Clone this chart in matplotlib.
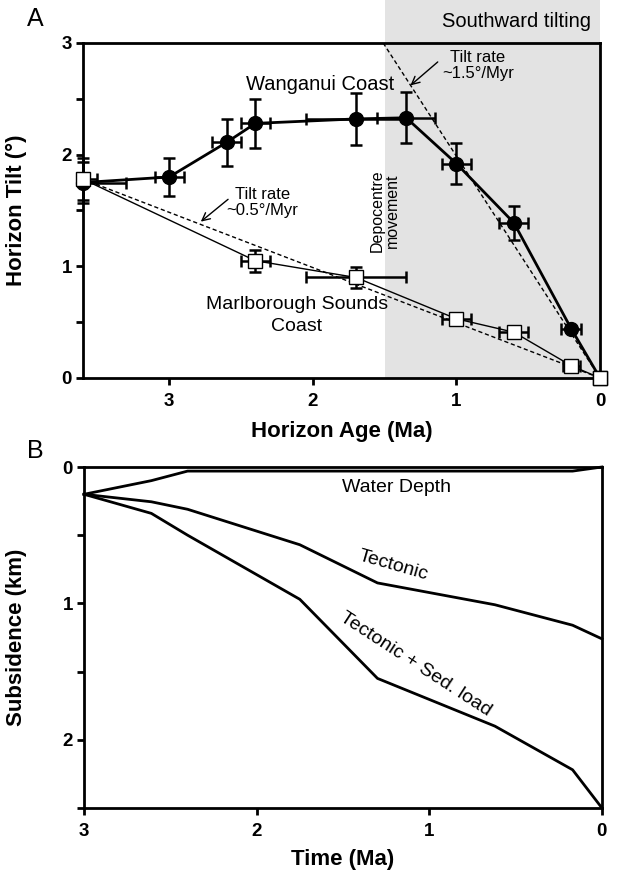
import matplotlib

matplotlib.use("Agg")
import matplotlib.pyplot as plt
from matplotlib.patches import Rectangle
from matplotlib.ticker import MultipleLocator

plt.rcParams["font.family"] = ["Liberation Sans", "DejaVu Sans"]

# Panel A: horizon tilt vs age
wang_age = [3.6, 3.0, 2.6, 2.4, 1.7, 1.35, 1.0, 0.6, 0.2, 0.0]
wang_tilt = [1.75, 1.80, 2.11, 2.28, 2.32, 2.33, 1.92, 1.39, 0.44, 0.0]
wang_xerr_young = [0.3, 0.1, 0.1, 0.1, 0.35, 0.2, 0.1, 0.1, 0.07, 0.0]
wang_xerr_old = [0.0, 0.1, 0.1, 0.1, 0.35, 0.2, 0.1, 0.1, 0.07, 0.0]
wang_yerr = [0.18, 0.17, 0.21, 0.22, 0.23, 0.23, 0.18, 0.15, 0.0, 0.0]

marl_age = [3.6, 2.4, 1.7, 1.0, 0.6, 0.2, 0.0]
marl_tilt = [1.78, 1.05, 0.90, 0.53, 0.41, 0.11, 0.0]
marl_xerr_young = [0.1, 0.1, 0.35, 0.1, 0.1, 0.06, 0.0]
marl_xerr_old = [0.0, 0.1, 0.35, 0.1, 0.1, 0.06, 0.0]
marl_yerr = [0.19, 0.10, 0.09, 0.04, 0.0, 0.0, 0.0]

fit_slow_age = [3.6, 0.0]
fit_slow_tilt = [1.78, 0.0]
fit_fast_age = [1.51, 0.0]
fit_fast_tilt = [3.0, 0.0]
depocentre_age = 1.5

# Panel B: subsidence history
sub_time = [3.0, 2.61, 2.4, 1.75, 1.30, 0.62, 0.17, 0.0]
water_depth = [0.2, 0.10, 0.03, 0.03, 0.03, 0.03, 0.03, 0.0]
tectonic = [0.2, 0.255, 0.31, 0.57, 0.85, 1.01, 1.16, 1.26]
tect_sed = [0.2, 0.34, 0.50, 0.97, 1.55, 1.90, 2.22, 2.5]


def style_axes(ax):
    for sp in ax.spines.values():
        sp.set_linewidth(2)
    ax.tick_params(which="both", direction="out", length=5, width=2, labelsize=13.5, pad=3)
    ax.tick_params(axis="x", pad=6)
    for lab in ax.get_xticklabels() + ax.get_yticklabels():
        lab.set_fontweight("bold")


fig = plt.figure(figsize=(6.21, 8.77), dpi=100)
ax1 = fig.add_axes([0.1337, 0.569, 0.8325, 0.382])
ax2 = fig.add_axes([0.1353, 0.0787, 0.834, 0.3888])

# ---- A ----
ax1.set_xlim(3.6, 0)
ax1.set_ylim(0, 3)
ax1.set_xticks([3, 2, 1, 0])
ax1.set_yticks([0, 1, 2, 3])
ax1.yaxis.set_minor_locator(MultipleLocator(0.5))

grey = Rectangle((depocentre_age, 0), -depocentre_age, 1.13, transform=ax1.get_xaxis_transform(),
                 facecolor="#e3e3e3", edgecolor="none", clip_on=False, zorder=0)
ax1.add_patch(grey)

ax1.plot(fit_slow_age, fit_slow_tilt, color="black", lw=1, ls=(0, (3, 2)), zorder=2)
ax1.plot(fit_fast_age, fit_fast_tilt, color="black", lw=1, ls=(0, (3, 2)), zorder=2)

# x axis is reversed: first row of xerr is toward younger ages (right), second toward older
ax1.errorbar(marl_age, marl_tilt, xerr=[marl_xerr_young, marl_xerr_old], yerr=marl_yerr, fmt="none",
             ecolor="black", elinewidth=1.8, capsize=4, capthick=1.8, clip_on=False, zorder=3)
ax1.plot(marl_age, marl_tilt, color="black", lw=1, marker="s", ms=10, mfc="white", mec="black",
         mew=1, clip_on=False, zorder=5)
ax1.errorbar(wang_age[:-1], wang_tilt[:-1], xerr=[wang_xerr_young[:-1], wang_xerr_old[:-1]],
             yerr=wang_yerr[:-1], fmt="none", ecolor="black", elinewidth=1.8, capsize=4,
             capthick=1.8, clip_on=False, zorder=3)
ax1.plot(wang_age, wang_tilt, color="black", lw=2, zorder=4, clip_on=False)
ax1.plot(wang_age[:-1], wang_tilt[:-1], ls="none", marker="o", ms=10, mfc="black", mec="black",
         clip_on=False, zorder=4)
ax1.plot(marl_age[-1:], marl_tilt[-1:], ls="none", marker="s", ms=10, mfc="white", mec="black",
         mew=1, clip_on=False, zorder=6)

ax1.text(1.95, 2.63, "Wanganui Coast", fontsize=14.5, ha="center", va="center")
ax1.text(2.11, 0.66, "Marlborough Sounds", fontsize=14, ha="center", va="center")
ax1.text(2.11, 0.46, "Coast", fontsize=14, ha="center", va="center")
ax1.text(1.5, 1.5, "Depocentre\nmovement", fontsize=11.5, rotation=90, ha="center", va="center",
         linespacing=1.0)

arrow = dict(arrowstyle="->", color="black", lw=1, shrinkA=0, shrinkB=0, mutation_scale=14)
ax1.text(2.35, 1.57, "Tilt rate\n~0.5°/Myr", fontsize=12, ha="center", va="center", linespacing=1.05)
ax1.annotate("", xy=(2.78, 1.40), xytext=(2.59, 1.60), arrowprops=arrow)
ax1.text(0.85, 2.80, "Tilt rate\n~1.5°/Myr", fontsize=12, ha="center", va="center", linespacing=1.05)
ax1.annotate("", xy=(1.32, 2.62), xytext=(1.13, 2.83), arrowprops=arrow)

ax1.set_xlabel("Horizon Age (Ma)", fontsize=16, fontweight="bold")
ax1.set_ylabel("Horizon Tilt (°)", fontsize=16, fontweight="bold")
ax1.xaxis.set_label_coords(0.5, -0.128)
ax1.yaxis.set_label_coords(-0.108, 0.5)
style_axes(ax1)

# ---- B ----
ax2.set_xlim(3, 0)
ax2.set_ylim(2.5, 0)
ax2.set_xticks([3, 2, 1, 0])
ax2.set_yticks([0, 1, 2])
ax2.yaxis.set_minor_locator(MultipleLocator(0.5))

for series in (water_depth, tectonic, tect_sed):
    ax2.plot(sub_time, series, color="black", lw=2, clip_on=False)

ax2.text(1.19, 0.15, "Water Depth", fontsize=14, ha="center", va="center")
ax2.text(1.21, 0.72, "Tectonic", fontsize=14, ha="center", va="center", rotation=-16)
ax2.text(1.08, 1.45, "Tectonic + Sed. load", fontsize=14, ha="center", va="center", rotation=-33)

ax2.set_xlabel("Time (Ma)", fontsize=16, fontweight="bold")
ax2.set_ylabel("Subsidence (km)", fontsize=16, fontweight="bold")
ax2.xaxis.set_label_coords(0.5, -0.12)
ax2.yaxis.set_label_coords(-0.11, 0.5)
style_axes(ax2)

fig.text(0.057, 0.978, "A", fontsize=18, ha="center", va="center")
fig.text(0.057, 0.486, "B", fontsize=18, ha="center", va="center")
fig.text(0.831, 0.976, "Southward tilting", fontsize=14.5, ha="center", va="center")

fig.savefig("out.png", dpi=100)
